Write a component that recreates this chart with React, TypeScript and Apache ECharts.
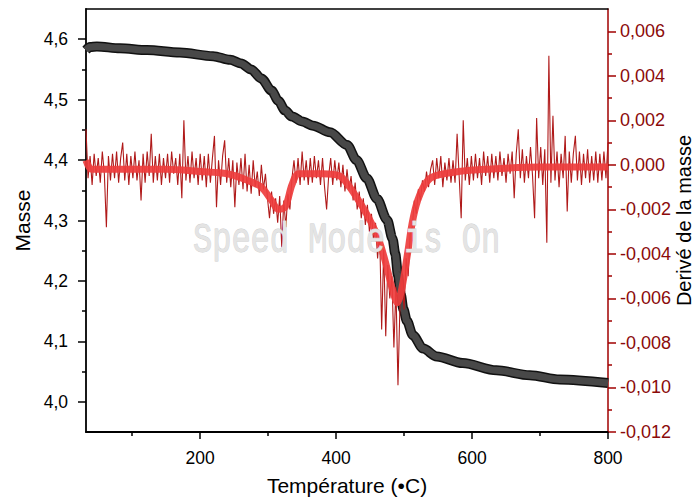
import React, { useEffect, useRef } from 'react';
import * as echarts from 'echarts';

// ---- Data ----
const massTemps = [32, 38, 48, 82, 122, 170, 219, 244, 260, 275, 290, 305, 315, 325, 335, 350, 366, 391, 416, 430, 445, 460, 475, 483, 487, 491, 495, 499, 504, 513, 528, 548, 586, 636, 685, 729, 800];
const massValues = [4.582, 4.587, 4.588, 4.585, 4.582, 4.578, 4.572, 4.566, 4.56, 4.55, 4.535, 4.515, 4.498, 4.482, 4.472, 4.464, 4.457, 4.446, 4.425, 4.4, 4.37, 4.336, 4.301, 4.27, 4.245, 4.21, 4.178, 4.153, 4.134, 4.11, 4.088, 4.075, 4.064, 4.052, 4.044, 4.037, 4.031];

// derivative sampled every 3 °C starting at 32 °C (noisy signal)
const derivStartT = 32;
const derivStepT = 3;
const derivValues = [
  0.0016, -0.0006, 0.0004, -0.0009, 0.0005, -0.0005, 0.0003, -0.0008, 0.0006, -0.0004,
  -0.0028, 0.0004, -0.0007, 0.0005, -0.0006, 0.0006, -0.0008, 0.0003, 0.0010, -0.0007,
  0.0005, -0.0009, 0.0004, -0.0006, 0.0006, -0.0007, 0.0002, -0.0016, 0.0005, -0.0008,
  0.0006, -0.0005, 0.0014, -0.0008, 0.0004, -0.0007, 0.0005, -0.0009, 0.0003, -0.0006,
  0.0005, -0.0008, 0.0006, -0.0004, 0.0003, -0.0009, 0.0005, -0.0015, 0.0020, -0.0007,
  0.0004, -0.0008, 0.0006, -0.0006, 0.0003, -0.0009, 0.0005, -0.0007, 0.0004, -0.0010,
  0.0005, -0.0008, 0.0003, 0.0013, -0.0019, 0.0002, -0.0009, 0.0004, 0.0011, -0.0008,
  0.0003, -0.0010, 0.0002, -0.0019, 0.0001, -0.0009, 0.0003, -0.0011, 0.0005, -0.0012,
  0.0000, -0.0013, 0.0002, -0.0010, -0.0003, -0.0014, 0.0000, -0.0011, -0.0004, -0.0015,
  -0.0024, -0.0012, -0.0022, -0.0015, -0.0026, -0.0014, -0.0037, -0.0016, -0.0028, -0.0013,
  -0.0020, -0.0006, 0.0002, -0.0008, 0.0003, -0.0009, 0.0006, -0.0007, 0.0002, -0.0009,
  0.0003, -0.0008, 0.0004, -0.0006, 0.0002, -0.0009, 0.0003, -0.0010, -0.0020, -0.0005,
  0.0003, -0.0009, 0.0002, -0.0007, 0.0001, -0.0010, 0.0000, -0.0012, -0.0002, -0.0011,
  -0.0005, -0.0016, -0.0008, -0.0020, -0.0012, -0.0024, -0.0015, -0.0027, -0.0018, -0.0030,
  -0.0022, -0.0034, -0.0026, -0.0042, -0.0030, -0.0074, -0.0038, -0.0077, -0.0045, -0.0060,
  -0.0050, -0.0082, -0.0055, -0.0099, -0.0062, -0.0052, -0.0065, -0.0042, -0.0050, -0.0031,
  -0.0028, -0.0016, -0.0022, -0.0011, -0.0016, -0.0007, -0.0012, -0.0003, -0.0010, -0.0002,
  0.0002, -0.0009, 0.0003, -0.0006, 0.0004, -0.0010, 0.0001, -0.0007, 0.0003, -0.0008,
  0.0002, -0.0008, 0.0014, -0.0005, -0.0024, 0.0020, -0.0007, 0.0003, -0.0009, 0.0004,
  -0.0007, 0.0005, -0.0006, 0.0003, -0.0009, 0.0006, -0.0005, 0.0004, -0.0008, 0.0005,
  -0.0006, 0.0004, -0.0007, 0.0006, -0.0005, 0.0003, -0.0008, 0.0005, -0.0004, 0.0006,
  -0.0015, 0.0005, 0.0016, -0.0006, 0.0007, -0.0008, 0.0004, -0.0006, 0.0008, -0.0005,
  -0.0024, 0.0021, -0.0006, 0.0008, -0.0009, 0.0007, -0.0035, 0.0049, -0.0008, 0.0022,
  -0.0007, 0.0006, -0.0010, 0.0005, -0.0006, 0.0013, -0.0021, 0.0006, -0.0008, 0.0005,
  0.0013, -0.0007, 0.0006, -0.0009, 0.0005, -0.0006, 0.0007, -0.0008, 0.0004, -0.0007,
  0.0006, -0.0008, 0.0005, -0.0007, 0.0006, -0.0006, 0.0010,
];

// dense core of the derivative noise (band centre)
const bandTemps = [32, 40, 60, 100, 150, 200, 240, 270, 290, 305, 315, 325, 335, 345, 380, 405, 420, 435, 450, 462, 472, 482, 490, 497, 505, 512, 520, 532, 545, 580, 620, 700, 800];
const bandValues = [0.0002, -0.0002, -0.0002, -0.0002, -0.0002, -0.0003, -0.0004, -0.0007, -0.001, -0.0016, -0.002, -0.0019, -0.0009, -0.0004, -0.0004, -0.0005, -0.001, -0.0017, -0.0025, -0.0033, -0.0043, -0.0055, -0.0062, -0.0055, -0.004, -0.0026, -0.0016, -0.0008, -0.0005, -0.0003, -0.0002, -0.0001, -0.0001];

const xTickLabels = [200, 400, 600, 800];
const xMinorTicks = [100, 300, 500, 700];
const leftTickLabels = [4.0, 4.1, 4.2, 4.3, 4.4, 4.5, 4.6];
const leftMinorTicks = [4.05, 4.15, 4.25, 4.35, 4.45, 4.55];
const rightTickLabels = [-0.012, -0.01, -0.008, -0.006, -0.004, -0.002, 0, 0.002, 0.004, 0.006];
const rightMinorTicks = [-0.011, -0.009, -0.007, -0.005, -0.003, -0.001, 0.001, 0.003, 0.005];

const FONT = '"Liberation Sans", Arial, sans-serif';
const RED = '#a00000';

export default function App() {
  const ref = useRef<HTMLDivElement>(null);
  useEffect(() => {
    document.body.style.margin = '0';
    document.body.style.overflow = 'hidden';
    document.documentElement.style.overflow = 'hidden';
    const chart = echarts.init(ref.current!, null, { renderer: 'svg', width: 699, height: 502 });
    const massData = massTemps.map((t, i) => [t, massValues[i]]);
    const derivData = derivValues.map((v, i) => [derivStartT + i * derivStepT, v]);
    const bandData = bandTemps.map((t, i) => [t, bandValues[i]]);
    const X_MIN = 32, X_MAX = 800;
    const L_MIN = 3.95, L_MAX = 4.65;
    const R_MIN = -0.012, R_MAX = 0.007;
    const option: any = {
      animation: false,
      backgroundColor: '#ffffff',
      grid: { left: 86, right: 91, top: 9, bottom: 70, containLabel: false, outerBoundsMode: 'none' },
      xAxis: [
        {
          type: 'value', min: X_MIN, max: X_MAX, position: 'bottom',
          name: 'Température (•C)', nameLocation: 'middle', nameGap: 43,
          nameTextStyle: { fontFamily: FONT, fontSize: 21, color: '#000' },
          axisLine: { show: true, onZero: false, lineStyle: { color: '#000', width: 1.8 } },
          axisTick: { show: true, length: 7, lineStyle: { color: '#000', width: 1.5 }, customValues: xTickLabels },
          axisLabel: { show: true, customValues: xTickLabels, margin: 17, fontFamily: FONT, fontSize: 17.5, color: '#000' },
          splitLine: { show: false },
        },
        {
          type: 'value', min: X_MIN, max: X_MAX, position: 'bottom',
          axisLine: { show: false, onZero: false },
          axisTick: { show: true, length: 4, lineStyle: { color: '#000', width: 1.5 }, customValues: xMinorTicks },
          axisLabel: { show: false },
          splitLine: { show: false },
        },
        {
          type: 'value', min: X_MIN, max: X_MAX, position: 'top',
          axisLine: { show: true, onZero: false, lineStyle: { color: '#000', width: 1.5 } },
          axisTick: { show: false }, axisLabel: { show: false }, splitLine: { show: false },
        },
      ],
      yAxis: [
        {
          type: 'value', min: L_MIN, max: L_MAX, position: 'left',
          name: 'Masse', nameLocation: 'middle', nameGap: 50,
          nameTextStyle: { fontFamily: FONT, fontSize: 21, color: '#000' },
          axisLine: { show: true, onZero: false, lineStyle: { color: '#000', width: 1.8 } },
          axisTick: { show: true, length: 8, lineStyle: { color: '#000', width: 1.5 }, customValues: leftTickLabels },
          axisLabel: {
            show: true, customValues: leftTickLabels, margin: 18, fontFamily: FONT, fontSize: 17.5, color: '#000',
            formatter: (v: number) => v.toFixed(1).replace('.', ','),
          },
          splitLine: { show: false },
        },
        {
          type: 'value', min: R_MIN, max: R_MAX, position: 'right',
          name: 'Derivé de la masse', nameLocation: 'middle', nameGap: 66, nameMoveOverlap: false,
          nameTextStyle: { fontFamily: FONT, fontSize: 20, color: '#000' },
          axisLine: { show: true, onZero: false, lineStyle: { color: RED, width: 1.5 } },
          axisTick: { show: true, length: 8, lineStyle: { color: RED, width: 1.5 }, customValues: rightTickLabels },
          axisLabel: {
            show: true, customValues: rightTickLabels, margin: 12, fontFamily: FONT, fontSize: 18, color: '#8b0a0a',
            formatter: (v: number) => v.toFixed(3).replace('.', ','),
          },
          splitLine: { show: false },
        },
        {
          type: 'value', min: L_MIN, max: L_MAX, position: 'left',
          axisLine: { show: false, onZero: false },
          axisTick: { show: true, length: 4, lineStyle: { color: '#000', width: 1.5 }, customValues: leftMinorTicks },
          axisLabel: { show: false }, splitLine: { show: false },
        },
        {
          type: 'value', min: R_MIN, max: R_MAX, position: 'right',
          axisLine: { show: false, onZero: false },
          axisTick: { show: true, length: 4, lineStyle: { color: RED, width: 1.5 }, customValues: rightMinorTicks },
          axisLabel: { show: false }, splitLine: { show: false },
        },
      ],
      series: [
        {
          type: 'line', name: 'Masse outline', xAxisIndex: 0, yAxisIndex: 0, data: massData,
          showSymbol: false, smooth: 0.3, smoothMonotone: 'x', z: 2,
          lineStyle: { color: '#111111', width: 10 },
        },
        {
          type: 'line', name: 'Masse', xAxisIndex: 0, yAxisIndex: 0, data: massData,
          showSymbol: false, smooth: 0.3, smoothMonotone: 'x', z: 3,
          lineStyle: { color: '#484848', width: 7 },
        },
        {
          type: 'line', name: 'Derivé', xAxisIndex: 0, yAxisIndex: 1, data: derivData,
          showSymbol: false, z: 4,
          lineStyle: { color: '#b01a1a', width: 1.1 },
        },
        {
          type: 'line', name: 'Derivé (coeur)', xAxisIndex: 0, yAxisIndex: 1, data: bandData,
          showSymbol: false, smooth: 0.3, z: 5,
          lineStyle: { color: '#ee3d3d', width: 7, opacity: 0.92 },
        },
      ],
      graphic: [
        {
          type: 'text', x: 193, y: 240, scaleX: 1, scaleY: 1.35, z: 100,
          style: {
            text: 'Speed Mode is On', fontFamily: '"Liberation Mono", "Courier New", monospace',
            fontSize: 32, fill: '#e4e4e4', stroke: '#cccccc', lineWidth: 0.6,
            textVerticalAlign: 'middle', textAlign: 'left',
          },
        },
      ],
    };
    chart.setOption(option);
    return () => chart.dispose();
  }, []);
  return <div ref={ref} style={{ position: 'fixed', left: 0, top: 0, width: 699, height: 502, background: '#fff' }} />;
}
